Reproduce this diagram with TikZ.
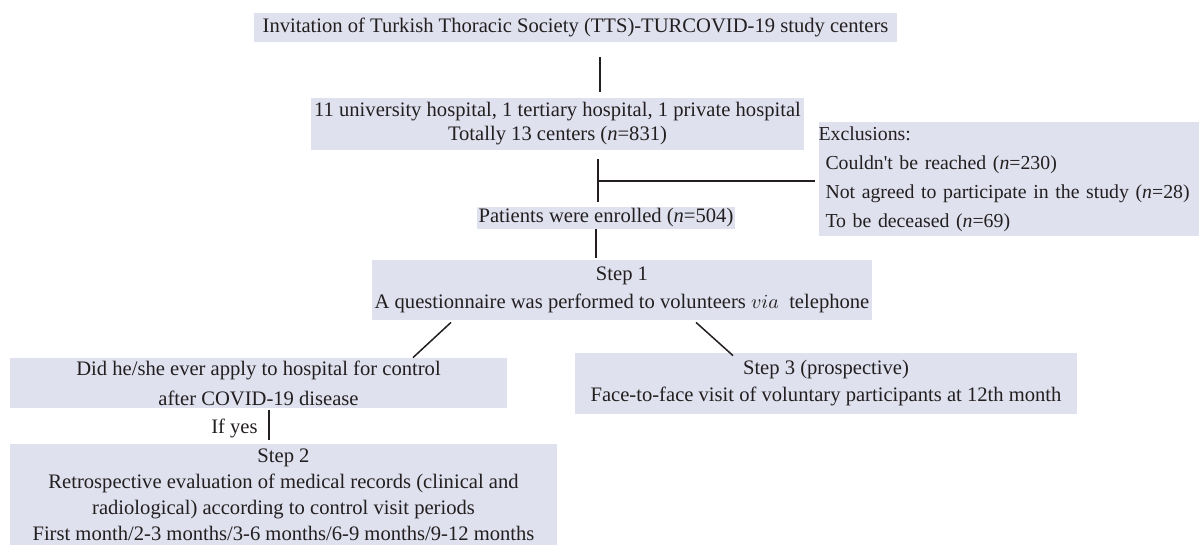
\documentclass[tikz,border=0pt]{standalone}
\usepackage{fontspec}
\setmainfont{Liberation Serif}
\begin{document}
\begin{tikzpicture}[x=0.5pt, y=-0.5pt, font=\fontsize{10.3}{12.4}\selectfont,
		box/.style={fill=boxfill, text=textgray, inner sep=0pt, align=center},
		link/.style={draw=textgray, line width=0.75pt}]
			\definecolor{boxfill}{RGB}{223,225,238}
			\definecolor{textgray}{RGB}{35,31,32}
			\useasboundingbox (0,0) rectangle (1199,545);
			% boxes
			\node[box, minimum width=321.5pt, minimum height=14.5pt] (invite) at (575.5,27.5) {Invitation of Turkish Thoracic Society (TTS)-TURCOVID-19 study centers};
			\node[box, minimum width=246.5pt, minimum height=26pt, font=\fontsize{10.3}{12}\selectfont] (centers) at (557.5,124) {11 university hospital, 1 tertiary hospital, 1 private hospital\\Totally 13 centers (\textit{n}=831)};
			\node[box, align=left, text width=190pt, minimum height=57pt, font=\fontsize{9.9}{14.5}\selectfont] (excl) at (1008.5,179) {Exclusions:\\\hspace*{3.5pt}Couldn\textquotesingle t be reached (\textit{n}=230)\\\hspace*{3.5pt}\mbox{Not agreed to participate in the study (\textit{n}=28)}\\\hspace*{3.5pt}To be deceased (\textit{n}=69)};
			\node[box, minimum width=129pt, minimum height=11pt] (enrolled) at (606,218) {Patients were enrolled (\textit{n}=504)};
			\node[box, minimum width=250pt, minimum height=30pt, font=\fontsize{10.3}{14}\selectfont] (step1) at (622,290) {Step 1\\A questionnaire was performed to volunteers $via$~ telephone};
			\node[box, minimum width=248.5pt, minimum height=25pt, font=\fontsize{10.3}{15}\selectfont] (did) at (258.5,383) {Did he/she ever apply to hospital for control\\after COVID-19 disease};
			\node[box, minimum width=273.5pt, minimum height=50.5pt, font=\fontsize{10.3}{13}\selectfont] (step2) at (283.5,494.5) {Step 2\\Retrospective evaluation of medical records (clinical and\\radiological) according to control visit periods\\First month/2-3 months/3-6 months/6-9 months/9-12 months};
			\node[box, minimum width=251pt, minimum height=30.5pt, font=\fontsize{10.3}{13.5}\selectfont] (step3) at (826,383.5) {Step 3 (prospective)\\Face-to-face visit of voluntary participants at 12th month};
			\node[text=textgray, anchor=east, inner sep=0pt] (ifyes) at (258,428) {If yes};
			% connectors
			\coordinate (split) at (598,181);
			\draw[link] ([xshift=12.25pt, yshift=-7.5pt]invite.south) -- ([xshift=21.25pt, yshift=3pt]centers.north);
			\draw[link] ([xshift=20.25pt, yshift=-4.5pt]centers.south) -- ([xshift=-4pt, yshift=2.5pt]enrolled.north);
			\draw[link, shorten >=1.5pt] (split) -- (split -| excl.west);
			\draw[link] ([xshift=-5pt]enrolled.south) -- ([xshift=-13pt, yshift=1pt]step1.north);
			\draw[link] ([xshift=-85.5pt, yshift=-1pt]step1.south) -- ([xshift=77.25pt]did.north);
			\draw[link] ([xshift=37pt, yshift=-1pt]step1.south) -- ([xshift=-46.5pt, yshift=-1.5pt]step3.north);
			\draw[link] ([xshift=5.25pt, yshift=-1pt]did.south) -- ([xshift=-7.25pt, yshift=2pt]step2.north);
		\end{tikzpicture}
\end{document}
